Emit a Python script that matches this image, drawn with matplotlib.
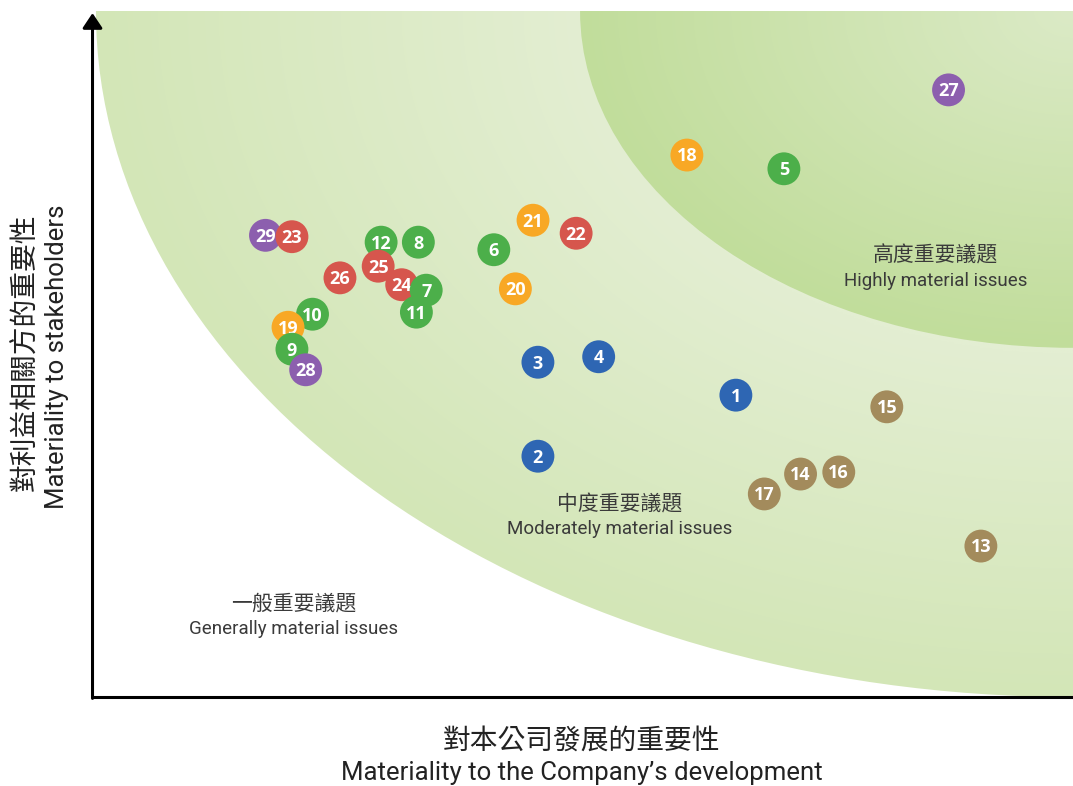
"""
Materiality matrix: importance to stakeholders vs importance to the company
"""

import numpy as np
import matplotlib.pyplot as plt
from matplotlib.patches import Ellipse

plt.rcParams['font.family'] = ['Noto Sans CJK TC', 'DejaVu Sans']

# ----------------------------------------------------------
# Data
# ----------------------------------------------------------

issue_ids = [1, 2, 3, 4, 5, 6, 7, 8, 9, 10, 11, 12, 13, 14, 15,
             16, 17, 18, 19, 20, 21, 22, 23, 24, 25, 26, 27, 28, 29]
company_score = [65.6, 45.4, 45.4, 51.6, 70.5, 40.9, 34.0, 33.2, 20.3, 22.4,
                 33.0, 29.4, 90.6, 72.2, 81.0, 76.1, 68.5, 60.6, 19.9, 43.1,
                 44.9, 49.3, 20.3, 31.5, 29.1, 25.2, 87.3, 21.7, 17.6]
stakeholder_score = [44.0, 35.1, 48.8, 49.6, 77.0, 65.2, 59.3, 66.3, 50.7, 55.8,
                     56.1, 66.3, 22.0, 32.5, 42.3, 32.8, 29.6, 79.0, 53.9, 59.5,
                     69.5, 67.6, 67.1, 60.1, 62.8, 61.1, 88.5, 47.7, 67.3]
issue_group = ['blue', 'blue', 'blue', 'blue', 'green', 'green', 'green', 'green',
               'green', 'green', 'green', 'green', 'brown', 'brown', 'brown',
               'brown', 'brown', 'orange', 'orange', 'orange', 'orange', 'red',
               'red', 'red', 'red', 'red', 'purple', 'purple', 'purple']

group_colors = {
    'blue': '#2e66b3',
    'green': '#4caf4a',
    'brown': '#a38b5c',
    'orange': '#f8a825',
    'red': '#d6564d',
    'purple': '#8c5fae',
}

zone_labels = [
    ('高度重要議題', 'Highly material issues', 86.0, 64.3, 60.6),
    ('中度重要議題', 'Moderately material issues', 53.7, 28.1, 24.5),
    ('一般重要議題', 'Generally material issues', 20.5, 13.7, 9.9),
]

# ----------------------------------------------------------
# Figure
# ----------------------------------------------------------

fig = plt.figure(figsize=(10.73, 7.86), dpi=100)
ax = fig.add_axes([93 / 1073, 89 / 786, 980 / 1073, 686 / 786])
ax.set_xlim(0, 100)
ax.set_ylim(0, 100)

# background zones: elliptical bands centred on the top-right corner
mod_a, mod_b = 99.7, 100.0
high_a, high_b = 50.3, 49.1
n = 500
gx, gy = np.meshgrid(np.linspace(0, 100, n), np.linspace(0, 100, n))
dx, dy = 100 - gx, 100 - gy
r_mod = np.sqrt((dx / mod_a) ** 2 + (dy / mod_b) ** 2)
r_high = np.sqrt((dx / high_a) ** 2 + (dy / high_b) ** 2)

light_mod = np.array([0xe3, 0xee, 0xd2]) / 255
dark_mod = np.array([0xd3, 0xe6, 0xb7]) / 255
light_high = np.array([0xdb, 0xea, 0xc6]) / 255
dark_high = np.array([0xc1, 0xdd, 0x9b]) / 255

t_mod = np.clip((r_mod - 0.5) / 0.5, 0, 1)[..., None]
img_mod = light_mod + (dark_mod - light_mod) * t_mod
t_high = np.clip(r_high, 0, 1)[..., None]
img_high = light_high + (dark_high - light_high) * t_high

for img, a, b, z in [(img_mod, mod_a, mod_b, 0.1), (img_high, high_a, high_b, 0.2)]:
    clip = Ellipse((100, 100), 2 * a, 2 * b, transform=ax.transData,
                   facecolor='none', edgecolor='none')
    ax.add_patch(clip)
    im = ax.imshow(img, extent=[0, 100, 0, 100], origin='lower', aspect='auto',
                   zorder=z, interpolation='bilinear')
    im.set_clip_path(clip)

# axes lines
for side in ['top', 'right', 'left']:
    ax.spines[side].set_visible(False)
ax.spines['bottom'].set_linewidth(2.2)
ax.set_xticks([])
ax.set_yticks([])
ax.annotate('', xy=(-0.05, 99.7), xytext=(-0.05, -0.2),
            xycoords='data', textcoords='data', annotation_clip=False,
            arrowprops=dict(arrowstyle='-|>,head_length=0.9,head_width=0.6',
                            color='black', lw=2.2, shrinkA=0, shrinkB=0))

# zone labels
for zh, en, x, y_zh, y_en in zone_labels:
    ax.text(x, y_zh, zh, ha='center', va='center', fontsize=15,
            color='#3a3a3a', zorder=2)
    ax.text(x, y_en, en, ha='center', va='center', fontsize=13.5,
            color='#3a3a3a', family=['Roboto', 'DejaVu Sans'], zorder=2)

# issue markers, lower ones drawn on top
xs = np.array(company_score)
ys = np.array(stakeholder_score)
order = np.argsort(-ys)
for z, i in enumerate(order):
    c = group_colors[issue_group[i]]
    ax.scatter(xs[i], ys[i], s=560, color=c, edgecolors='none', zorder=3 + z * 0.01)
    ax.text(xs[i], ys[i] - 0.2, str(issue_ids[i]), ha='center', va='center',
            fontsize=13, color='white', fontweight='bold',
            family=['Open Sans', 'DejaVu Sans'], zorder=3 + z * 0.01 + 0.002)

# axis titles
fig.text(582 / 1073, 1 - 741 / 786, '對本公司發展的重要性', ha='center', va='center',
         fontsize=20, color='#222222')
fig.text(582 / 1073, 1 - 773 / 786, 'Materiality to the Company’s development',
         ha='center', va='center', fontsize=18.5, color='#222222',
         family=['Roboto', 'DejaVu Sans'])
fig.text(25 / 1073, 1 - 352 / 786, '對利益相關方的重要性', ha='center', va='center',
         fontsize=20, color='#222222', rotation=90)
fig.text(57 / 1073, 1 - 357 / 786, 'Materiality to stakeholders', ha='center',
         va='center', fontsize=18.5, color='#222222', rotation=90,
         family=['Roboto', 'DejaVu Sans'])

fig.savefig('out.png', dpi=100)
